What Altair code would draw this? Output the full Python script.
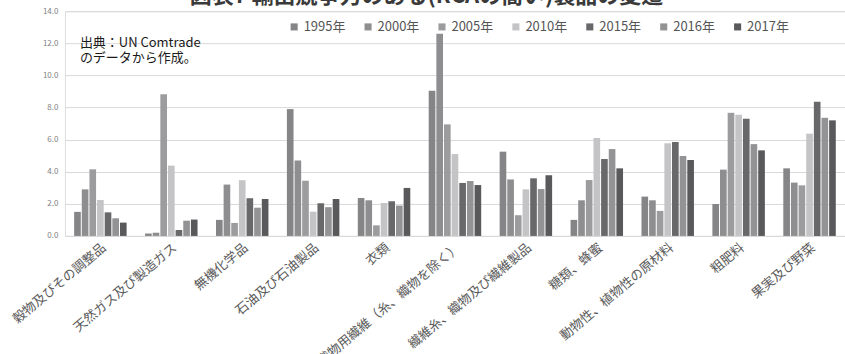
import altair as alt
import pandas as pd

FONT = "Noto Sans CJK JP"

categories = [
    "穀物及びその調整品",
    "天然ガス及び製造ガス",
    "無機化学品",
    "石油及び石油製品",
    "衣類",
    "織物用繊維（糸、織物を除く）",
    "繊維糸、織物及び繊維製品",
    "糖類、蜂蜜",
    "動物性、植物性の原材料",
    "粗肥料",
    "果実及び野菜",
]
years = ["1995年", "2000年", "2005年", "2010年", "2015年", "2016年", "2017年"]
colors = ["#858588", "#8e8e90", "#9c9c9e", "#c4c4c6", "#68686b", "#939395", "#59595c"]

# RCA index per category, one list per year
rca_1995 = [1.5, 0.15, 1.0, 7.9, 2.36, 9.05, 5.25, 1.0, 2.45, 1.99, 4.21]
rca_2000 = [2.9, 0.2, 3.2, 4.7, 2.22, 12.6, 3.52, 2.22, 2.22, 4.13, 3.32]
rca_2005 = [4.15, 8.82, 0.81, 3.44, 0.66, 6.95, 1.29, 3.48, 1.56, 7.67, 3.15]
rca_2010 = [2.24, 4.38, 3.47, 1.51, 2.05, 5.1, 2.9, 6.1, 5.77, 7.55, 6.37]
rca_2015 = [1.47, 0.37, 2.35, 2.03, 2.16, 3.3, 3.59, 4.79, 5.85, 7.3, 8.36]
rca_2016 = [1.1, 0.95, 1.76, 1.79, 1.89, 3.42, 2.92, 5.41, 4.98, 5.72, 7.36]
rca_2017 = [0.83, 1.02, 2.3, 2.3, 2.99, 3.17, 3.78, 4.21, 4.73, 5.33, 7.2]

title_text = "図表7 輸出競争力のある(RCAの高い)製品の変遷"
source_lines = ["出典：UN Comtrade", "のデータから作成。"]

series = [rca_1995, rca_2000, rca_2005, rca_2010, rca_2015, rca_2016, rca_2017]
rows = []
for year, vals in zip(years, series):
    for cat, v in zip(categories, vals):
        rows.append({"品目": cat, "年": year, "RCA": v})
df = pd.DataFrame(rows)

bars = alt.Chart(df).mark_bar().encode(
    x=alt.X(
        "品目:N",
        sort=categories,
        title=None,
        scale=alt.Scale(paddingInner=0.26, paddingOuter=0.13),
        axis=alt.Axis(
            labelAngle=-40,
            labelFont=FONT,
            labelFontSize=13,
            labelColor="#5a5a5a",
            labelLimit=300,
            labelPadding=5,
            ticks=False,
            domainColor="#d9d9d9",
            grid=False,
        ),
    ),
    xOffset=alt.XOffset("年:N", sort=years, scale=alt.Scale(paddingInner=0.13, paddingOuter=0)),
    y=alt.Y(
        "RCA:Q",
        title=None,
        scale=alt.Scale(domain=[0, 14], nice=False),
        axis=alt.Axis(
            values=[0, 2, 4, 6, 8, 10, 12, 14],
            format=".1f",
            labelFont=FONT,
            labelFontSize=8,
            labelColor="#808080",
            labelPadding=7,
            ticks=False,
            domain=False,
            gridColor="#d9d9d9",
            gridWidth=1,
        ),
    ),
    color=alt.Color(
        "年:N",
        sort=years,
        scale=alt.Scale(domain=years, range=colors),
        legend=alt.Legend(
            title=None,
            orient="none",
            direction="horizontal",
            columns=7,
            legendX=223,
            legendY=9,
            symbolType="square",
            symbolSize=50,
            symbolStrokeWidth=0,
            labelFont=FONT,
            labelFontSize=13,
            labelColor="#555555",
            labelOffset=3,
            columnPadding=16,
        ),
    ),
)

title = alt.Chart(pd.DataFrame({"t": [title_text]})).mark_text(
    font=FONT, fontSize=22, fontWeight="bold", color="#3a3a3a", align="center", baseline="bottom"
).encode(text="t:N", x=alt.value(362), y=alt.value(-3.5))

source = alt.Chart(pd.DataFrame({"t": [source_lines]})).mark_text(
    font=FONT, fontSize=13, color="#1a1a1a", align="left", baseline="middle", lineHeight=15
).encode(text="t", x=alt.value(15), y=alt.value(32))

chart = alt.layer(bars, title, source).properties(
    width=781,
    height=225,
    autosize=alt.AutoSizeParams(type="none"),
    padding={"left": 65, "top": 11, "right": 0, "bottom": 118},
).configure_view(stroke=None).configure(background="white")

chart.save("out.html", embed_options={"renderer": "svg", "actions": False})
